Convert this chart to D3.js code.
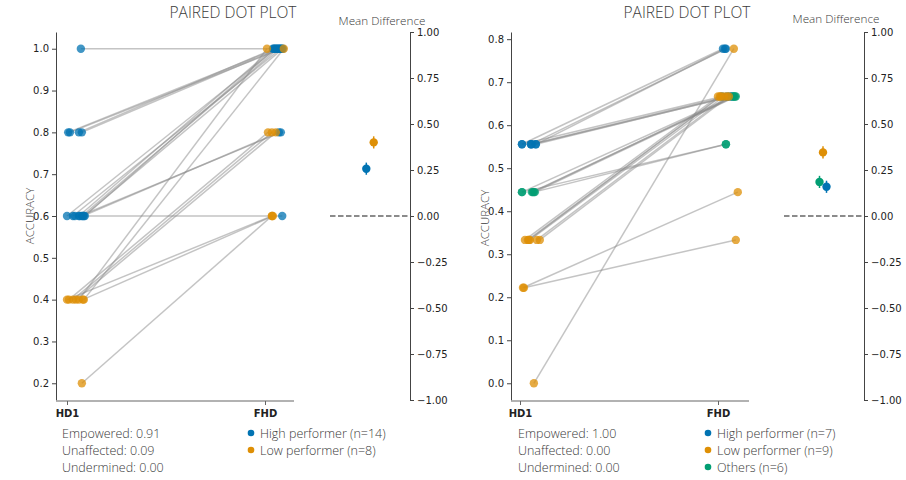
<!DOCTYPE html>
<html>
<head>
<meta charset="utf-8">
<script src="https://cdn.jsdelivr.net/npm/d3@7"></script>
<style>
  html, body { margin: 0; padding: 0; background: #fff; }
  svg { display: block; }
  .light { font-family: "Open Sans", Lato, sans-serif; font-weight: 300; fill: #3a3a3a; }
  .tick text { font-family: "DejaVu Sans", sans-serif; font-size: 10px; fill: #222; }
</style>
</head>
<body>
<svg id="chart" width="906" height="480"></svg>
<script>
// ---------- data ----------
const categories = ["HD1", "FHD"];

// left panel: 22 participants
const groupsL = ["High performer", "Low performer"];
const countsL = [14, 8];
const hueL = ["High performer","High performer","High performer","High performer","High performer",
  "High performer","High performer","High performer","High performer","High performer",
  "High performer","High performer","High performer","High performer",
  "Low performer","Low performer","Low performer","Low performer","Low performer",
  "Low performer","Low performer","Low performer"];
const hd1L = [1.0, 0.8, 0.8, 0.8, 0.8, 0.6, 0.6, 0.6, 0.6, 0.6, 0.6, 0.6, 0.6, 0.6,
  0.4, 0.4, 0.4, 0.4, 0.4, 0.4, 0.4, 0.2];
const fhdL = [1.0, 1.0, 1.0, 1.0, 1.0, 1.0, 1.0, 1.0, 1.0, 1.0, 1.0, 0.8, 0.8, 0.6,
  0.6, 0.6, 0.8, 0.8, 0.8, 1.0, 1.0, 0.6];
// horizontal strip jitter (fraction of the HD1 -> FHD distance)
const jitHd1L = [0.070, 0.006, 0.015, 0.060, 0.075, 0.000, 0.030, 0.060, 0.075, 0.085, 0.090,
  0.065, 0.080, 0.040, 0.000, 0.080, 0.010, 0.030, 0.045, 0.060, 0.085, 0.075];
const jitFhdL = [0.075, 0.060, 0.085, 0.045, 0.070, 0.055, 0.080, 0.040, 0.065, 0.090, 0.050,
  0.080, 0.070, 0.087, 0.035, 0.040, 0.015, 0.035, 0.055, 0.010, 0.095, 0.035];
const ciL = [0.033, 0.033];
const statsL = ["Empowered: 0.91", "Unaffected: 0.09", "Undermined: 0.00"];

// right panel: 22 participants
const groupsR = ["High performer", "Low performer", "Others"];
const countsR = [7, 9, 6];
const hueR = ["High performer","High performer","High performer","High performer",
  "High performer","High performer","High performer",
  "Others","Others","Others","Others","Others","Others",
  "Low performer","Low performer","Low performer","Low performer","Low performer",
  "Low performer","Low performer","Low performer","Low performer"];
const hd1R = [0.5556, 0.5556, 0.5556, 0.5556, 0.5556, 0.5556, 0.5556,
  0.4444, 0.4444, 0.4444, 0.4444, 0.4444, 0.4444,
  0.3333, 0.3333, 0.3333, 0.3333, 0.3333, 0.3333, 0.2222, 0.2222, 0.0];
const fhdR = [0.7778, 0.7778, 0.7778, 0.6667, 0.6667, 0.6667, 0.6667,
  0.6667, 0.6667, 0.6667, 0.6667, 0.5556, 0.5556,
  0.6667, 0.6667, 0.6667, 0.6667, 0.6667, 0.6667, 0.4444, 0.3333, 0.7778];
const jitHd1R = [0.010, 0.055, 0.080, 0.010, 0.055, 0.080, 0.060,
  0.010, 0.060, 0.075, 0.065, 0.010, 0.070,
  0.025, 0.040, 0.050, 0.085, 0.100, 0.045, 0.015, 0.020, 0.070];
const jitFhdR = [0.025, 0.040, 0.035, 0.020, 0.045, 0.060, 0.070,
  0.075, 0.085, 0.090, 0.080, 0.040, 0.040,
  0.000, 0.015, 0.030, 0.045, 0.055, 0.010, 0.100, 0.090, 0.080];
const ciR = [0.033, 0.033, 0.033];
const meanOrderR = ["Others", "Low performer", "High performer"];
const statsR = ["Empowered: 1.00", "Unaffected: 0.00", "Undermined: 0.00"];

const diffTicks = [-1, -0.75, -0.5, -0.25, 0, 0.25, 0.5, 0.75, 1];

// ---------- styling ----------
const palette = {
  "High performer": "#0173b2",
  "Low performer": "#de8f05",
  "Others": "#029e73"
};

const svg = d3.select("#chart");

function drawPanel(cfg) {
  const g = svg.append("g");
  const rows = cfg.hue.map((h, i) => ({
    hue: h, a: cfg.hd1[i], b: cfg.fhd[i], ja: cfg.jitA[i], jb: cfg.jitB[i]
  }));

  // y scale with 5% padding around the data extent
  const ext = d3.extent(cfg.hd1.concat(cfg.fhd));
  const pad = (ext[1] - ext[0]) * 0.05;
  const y = d3.scaleLinear().domain([ext[0] - pad, ext[1] + pad]).range([400, 32]);
  const x = d3.scalePoint().domain(categories).range([cfg.x0, cfg.x0 + 198]);
  const span = x("FHD") - x("HD1");
  const xa = d => x("HD1") + d.ja * span;
  const xb = d => x("FHD") + d.jb * span;

  // y axis
  const yAxis = g.append("g")
    .attr("transform", `translate(${cfg.spine},0)`)
    .call(d3.axisLeft(y).tickValues(cfg.yTicks).tickFormat(d3.format(".1f")).tickSize(4).tickSizeOuter(0).tickPadding(3));
  yAxis.select(".domain").attr("stroke", "#444").attr("stroke-width", 1);
  yAxis.selectAll(".tick line").attr("stroke", "#444");

  // x axis
  const xAxis = g.append("g")
    .attr("transform", "translate(0,401)")
    .call(d3.axisBottom(x).tickSize(4).tickSizeOuter(0).tickPadding(3));
  xAxis.select(".domain").attr("d", `M${cfg.spine},0H${x("FHD") + cfg.xTail}`)
    .attr("stroke", "#999").attr("stroke-width", 1.6);
  xAxis.selectAll(".tick line").attr("stroke", "#666");
  xAxis.selectAll(".tick text").attr("font-weight", "bold").attr("fill", "#333").attr("dy", "0.9em");

  // y axis title
  g.append("text").attr("class", "light")
    .attr("transform", `translate(${cfg.spine - 22},${cfg.labelY}) rotate(-90)`)
    .attr("text-anchor", "middle").attr("font-size", 11.5).text("ACCURACY");

  // title
  g.append("text").attr("class", "light")
    .attr("x", cfg.titleX).attr("y", 18).attr("text-anchor", "middle")
    .attr("font-size", 15.5).attr("fill", "#333").text("PAIRED DOT PLOT");

  // connecting lines
  g.append("g").selectAll("line").data(rows).join("line")
    .attr("x1", xa).attr("y1", d => y(d.a))
    .attr("x2", xb).attr("y2", d => y(d.b))
    .attr("stroke", "#8a8a8a").attr("stroke-opacity", 0.5).attr("stroke-width", 1.5);

  // dots
  const dots = g.append("g");
  dots.selectAll("circle.a").data(rows).join("circle").attr("class", "a")
    .attr("cx", xa).attr("cy", d => y(d.a)).attr("r", 4.2)
    .attr("fill", d => palette[d.hue]).attr("fill-opacity", 0.75);
  dots.selectAll("circle.b").data(rows).join("circle").attr("class", "b")
    .attr("cx", xb).attr("cy", d => y(d.b)).attr("r", 4.2)
    .attr("fill", d => palette[d.hue]).attr("fill-opacity", 0.75);

  // mean difference axis
  const yd = d3.scaleLinear().domain([-1, 1]).range([400, 32]);
  const dAxis = g.append("g")
    .attr("transform", `translate(${cfg.dSpine},0)`)
    .call(d3.axisRight(yd).tickValues(diffTicks).tickFormat(d3.format(".2f")).tickSize(4).tickSizeOuter(0).tickPadding(3));
  dAxis.select(".domain").attr("stroke", "#444");
  dAxis.selectAll(".tick line").attr("stroke", "#444");

  g.append("text").attr("class", "light")
    .attr("x", cfg.dSpine - 28).attr("y", cfg.mdY).attr("text-anchor", "middle")
    .attr("font-size", 11.7).text("Mean Difference");

  g.append("line")
    .attr("x1", cfg.dSpine - 80).attr("x2", cfg.dSpine)
    .attr("y1", yd(0)).attr("y2", yd(0))
    .attr("stroke", "#666").attr("stroke-width", 1.4).attr("stroke-dasharray", "5.5,2.5");

  // group means of FHD - HD1
  const means = cfg.meanOrder.map((h, k) => {
    const sel = rows.filter(r => r.hue === h);
    return { hue: h, k, m: d3.mean(sel, r => r.b - r.a), ci: cfg.ci[k] };
  });
  const mx = d => cfg.dCenter + (d.k - (means.length - 1) / 2) * cfg.dodge;
  const mg = g.append("g");
  mg.selectAll("line").data(means).join("line")
    .attr("x1", mx).attr("x2", mx)
    .attr("y1", d => yd(d.m - d.ci)).attr("y2", d => yd(d.m + d.ci))
    .attr("stroke", d => palette[d.hue]).attr("stroke-width", 1.5);
  mg.selectAll("circle").data(means).join("circle")
    .attr("cx", mx).attr("cy", d => yd(d.m)).attr("r", 4.2)
    .attr("fill", d => palette[d.hue]);

  // summary text
  g.append("g").selectAll("text").data(cfg.stats).join("text").attr("class", "light")
    .attr("x", cfg.statsX).attr("y", (d, i) => 438 + i * 17)
    .attr("font-size", 12.5).text(d => d);

  // legend
  const leg = g.append("g").selectAll("g").data(cfg.groups).join("g")
    .attr("transform", (d, i) => `translate(${cfg.legX},${433 + i * 17})`);
  leg.append("circle").attr("r", 3.3).attr("fill", d => palette[d]);
  leg.append("text").attr("class", "light").attr("x", 9).attr("y", 4.5)
    .attr("font-size", 12.5).text((d, i) => `${d} (n=${cfg.counts[i]})`);
}

drawPanel({
  hue: hueL, hd1: hd1L, fhd: fhdL, jitA: jitHd1L, jitB: jitFhdL, ci: ciL,
  groups: groupsL, counts: countsL, meanOrder: groupsL, stats: statsL,
  yTicks: d3.range(2, 11).map(v => v / 10),
  spine: 56, x0: 67, xTail: 29, labelY: 216, titleX: 233,
  dSpine: 410, dCenter: 370, dodge: 7.4, mdY: 25,
  statsX: 62, legX: 251
});

drawPanel({
  hue: hueR, hd1: hd1R, fhd: fhdR, jitA: jitHd1R, jitB: jitFhdR, ci: ciR,
  groups: groupsR, counts: countsR, meanOrder: meanOrderR, stats: statsR,
  yTicks: d3.range(0, 9).map(v => v / 10),
  spine: 511, x0: 520, xTail: 31, labelY: 218, titleX: 687,
  dSpine: 864, dCenter: 823, dodge: 3.5, mdY: 23,
  statsX: 518, legX: 708
});
</script>
</body>
</html>
